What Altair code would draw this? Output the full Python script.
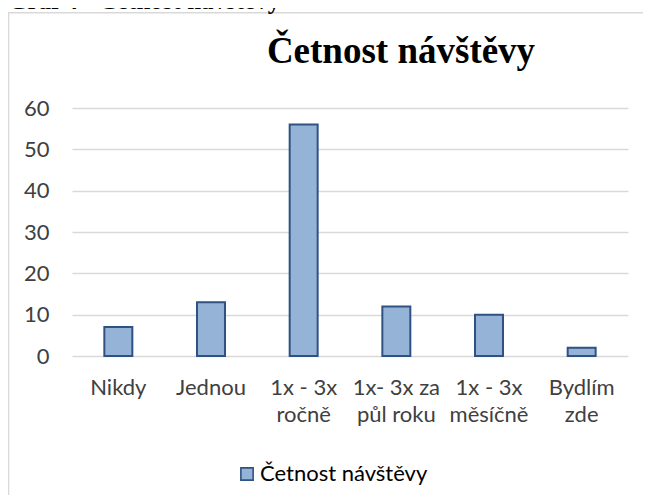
import altair as alt
import pandas as pd

# ---- data ----
categories = ["Nikdy", "Jednou", "1x - 3x\nročně", "1x- 3x za\npůl roku", "1x - 3x\nměsíčně", "Bydlím\nzde"]
values = [7, 13, 56, 12, 10, 2]
series_name = "Četnost návštěvy"
chart_title = "Četnost návštěvy"
caption = "Graf 4 - Četnost návštěvy"
y_ticks = [0, 10, 20, 30, 40, 50, 60]

df = pd.DataFrame({"kategorie": categories, "hodnota": values, "serie": [series_name] * len(categories)})

FONT = "Lato"
LABEL_COLOR = "#404040"
FILL = "#95B3D7"
EDGE = "#2F5283"
BORDER = "#D9D9D9"
FS = 22

W, H = 556, 248

x_enc = alt.X(
    "kategorie:N",
    sort=categories,
    scale=alt.Scale(paddingInner=0.698, paddingOuter=0.349),
    axis=alt.Axis(
        title=None,
        labelAngle=0,
        labelBaseline="top",
        labelPadding=21,
        labelLineHeight=27,
        labelFont=FONT,
        labelFontSize=FS,
        labelColor=LABEL_COLOR,
        labelExpr="split(datum.label, '\\n')",
        ticks=False,
        domain=False,
        grid=False,
    ),
)

y_enc = alt.Y(
    "hodnota:Q",
    scale=alt.Scale(domain=[0, 60], nice=False),
    axis=alt.Axis(
        title=None,
        values=y_ticks,
        labelFont=FONT,
        labelFontSize=FS,
        labelColor=LABEL_COLOR,
        labelPadding=23,
        ticks=False,
        domain=False,
        grid=True,
        gridColor=BORDER,
        gridWidth=1.6,
    ),
)

bars = alt.Chart(df).mark_bar(stroke=EDGE, strokeWidth=2).encode(
    x=x_enc,
    y=y_enc,
    color=alt.Color(
        "serie:N",
        scale=alt.Scale(range=[FILL]),
        legend=alt.Legend(
            title=None,
            orient="none",
            legendX=164,
            legendY=355,
            symbolType="square",
            symbolSize=150,
            symbolStrokeColor=EDGE,
            symbolStrokeWidth=1.6,
            labelFont=FONT,
            labelFontSize=FS,
            labelColor="#000000",
            labelOffset=2,
            labelLimit=0,
            padding=0,
        ),
    ),
)

text_df = pd.DataFrame({"t": [chart_title]})
title_mark = alt.Chart(text_df).mark_text(
    font="Liberation Serif", fontSize=37, fontWeight="bold", color="#000000",
    align="center", baseline="alphabetic",
).encode(text="t:N", x=alt.value(329), y=alt.value(-45))

cap_df = pd.DataFrame({"t": [caption]})
caption_mark = alt.Chart(cap_df).mark_text(
    font="Liberation Serif", fontSize=25, fontWeight="bold", color="#000000",
    align="left", baseline="alphabetic",
).encode(text="t:N", x=alt.value(-64), y=alt.value(-99))

border_box = alt.Chart(text_df).mark_rect(
    fillOpacity=0, stroke=BORDER, strokeWidth=1.6
).encode(
    x=alt.value(-63.5), x2=alt.value(640), y=alt.value(-95.3), y2=alt.value(460)
)

chart = alt.layer(border_box, caption_mark, title_mark, bars).properties(
    width=W,
    height=H,
    autosize=alt.AutoSizeParams(type="none"),
    padding={"left": 64, "top": 100, "right": 15, "bottom": 139},
    background="white",
).configure_view(stroke=None)

chart.save("out.html", embed_options={"renderer": "svg", "actions": False})
